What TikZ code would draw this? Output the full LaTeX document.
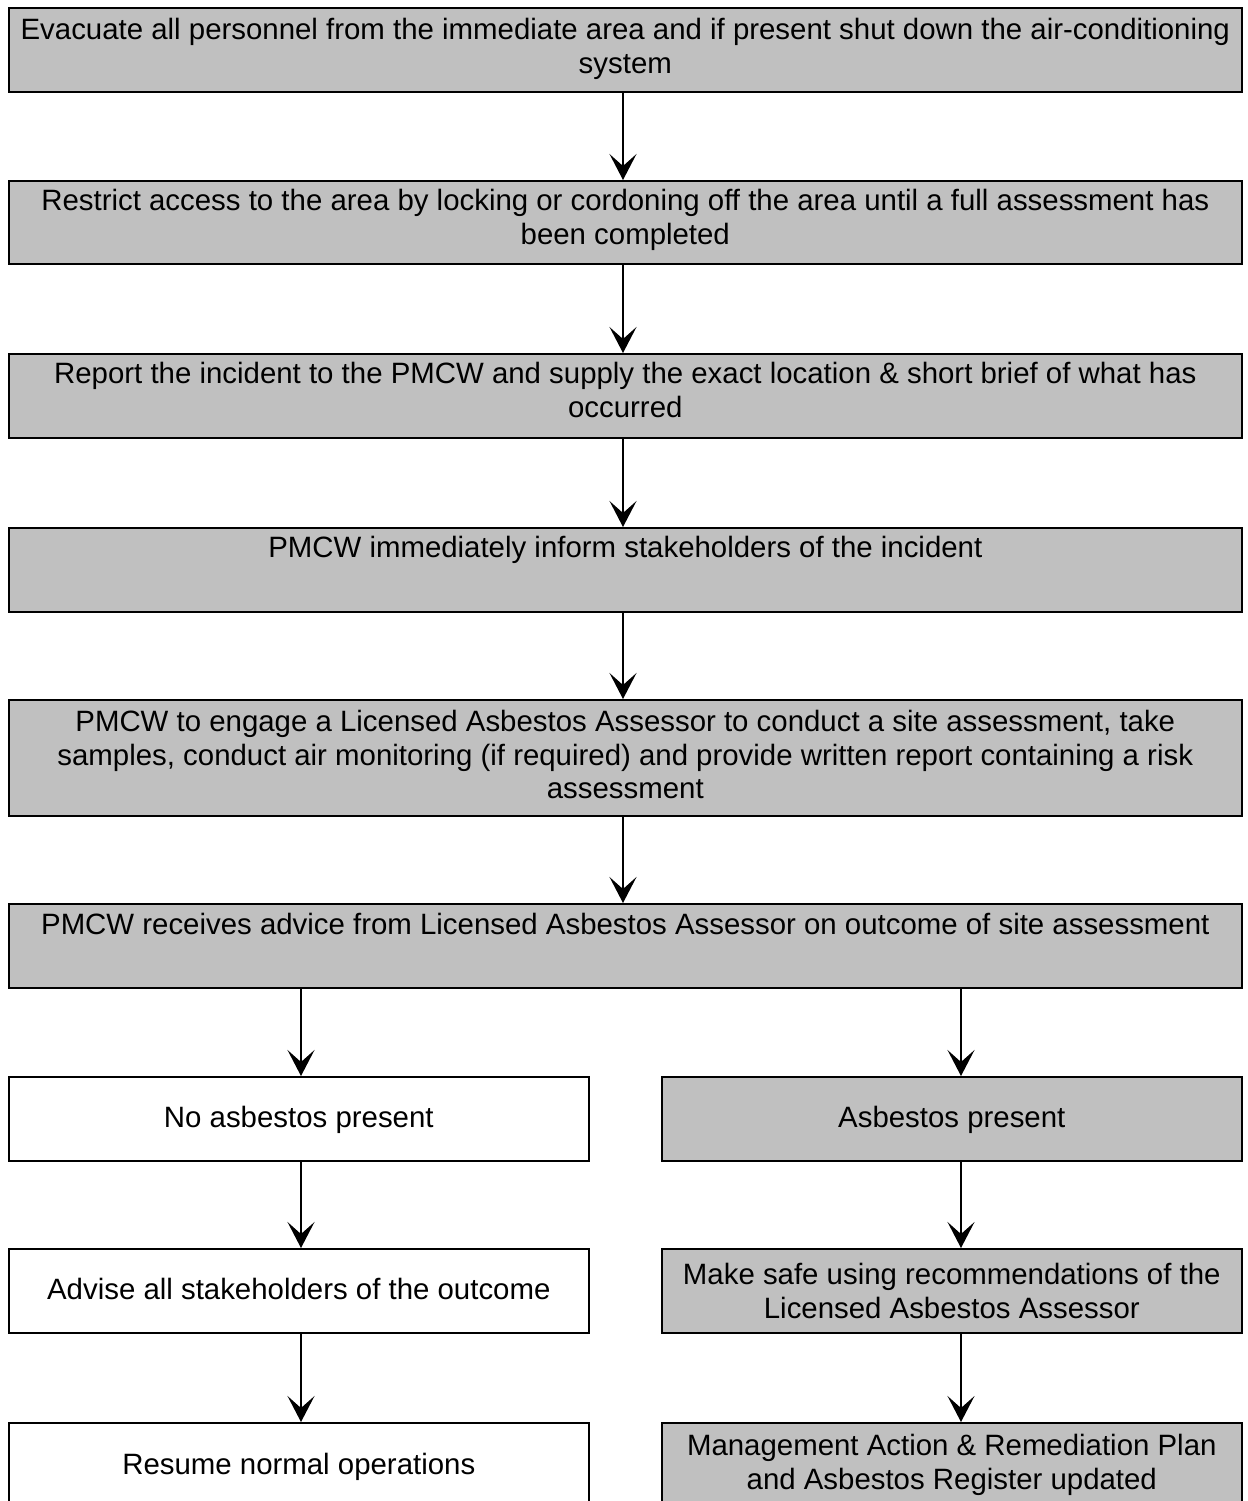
\documentclass[tikz,border=0pt]{standalone}
\usepackage{fontspec}
\setmainfont{Liberation Sans}
\usetikzlibrary{arrows.meta}
\definecolor{boxgray}{HTML}{C0C0C0}
\newcommand\bxt[4]{\parbox[c][#2][t]{#1}{\centering\vspace*{#3}\strut#4\par}}
\tikzset{
  gbox/.style={draw=black, line width=0.8pt, fill=boxgray, inner sep=0pt, anchor=north west},
  wbox/.style={draw=black, line width=0.8pt, fill=white, inner sep=0pt, anchor=north west},
  arr/.style={draw=black, line width=0.8pt, -{Stealth[length=13pt, width=13.5pt, inset=6pt]}}
}
\begin{document}
\fontsize{14.7pt}{16.6pt}\selectfont
\begin{tikzpicture}[x=0.5pt, y=-0.5pt]
\useasboundingbox (0,0) rectangle (1248,1501);
\coordinate (cm) at (623,0);
\coordinate (cl) at (301,0);
\coordinate (cr) at (961,0);
\node[gbox] (b1) at (8,7) {\bxt{616.5pt}{42pt}{4.45pt}{Evacuate all personnel from the immediate area and if present shut down the air-conditioning\\system}};
\node[gbox] (b2) at (8,180) {\bxt{616.5pt}{41.5pt}{3.45pt}{Restrict access to the area by locking or cordoning off the area until a full assessment has\\been completed}};
\node[gbox] (b3) at (8,353) {\bxt{616.5pt}{42pt}{3.45pt}{Report the incident to the PMCW and supply the exact location \& short brief of what has\\occurred}};
\node[gbox] (b4) at (8,527) {\bxt{616.5pt}{42pt}{3.45pt}{PMCW immediately inform stakeholders of the incident}};
\node[gbox] (b5) at (8,699) {\bxt{616.5pt}{58pt}{4.45pt}{PMCW to engage a Licensed Asbestos Assessor to conduct a site assessment, take\\samples, conduct air monitoring (if required) and provide written report containing a risk\\assessment}};
\node[gbox] (b6) at (8,903) {\bxt{616.5pt}{42pt}{3.95pt}{PMCW receives advice from Licensed Asbestos Assessor on outcome of site assessment}};
\node[wbox] (l1) at (8,1076) {\bxt{290pt}{42pt}{13.95pt}{No asbestos present}};
\node[wbox] (l2) at (8,1248) {\bxt{290pt}{42pt}{13.95pt}{Advise all stakeholders of the outcome}};
\node[wbox] (l3) at (8,1422) {\bxt{290pt}{50pt}{14.45pt}{Resume normal operations}};
\node[gbox] (r1) at (661,1076) {\bxt{290pt}{42pt}{13.95pt}{Asbestos present}};
\node[gbox] (r2) at (661,1248) {\bxt{290pt}{42pt}{6.45pt}{Make safe using recommendations of the\\Licensed Asbestos Assessor}};
\node[gbox] (r3) at (661,1422) {\bxt{290pt}{50pt}{4.95pt}{Management Action \& Remediation Plan\\and Asbestos Register updated}};
\draw[arr] (b1.south -| cm) -- (b2.north -| cm);
\draw[arr] (b2.south -| cm) -- (b3.north -| cm);
\draw[arr] (b3.south -| cm) -- (b4.north -| cm);
\draw[arr] (b4.south -| cm) -- (b5.north -| cm);
\draw[arr] (b5.south -| cm) -- (b6.north -| cm);
\draw[arr] (b6.south -| cl) -- (l1.north -| cl);
\draw[arr] (b6.south -| cr) -- (r1.north -| cr);
\draw[arr] (l1.south -| cl) -- (l2.north -| cl);
\draw[arr] (l2.south -| cl) -- (l3.north -| cl);
\draw[arr] (r1.south -| cr) -- (r2.north -| cr);
\draw[arr] (r2.south -| cr) -- (r3.north -| cr);
\end{tikzpicture}
\end{document}
